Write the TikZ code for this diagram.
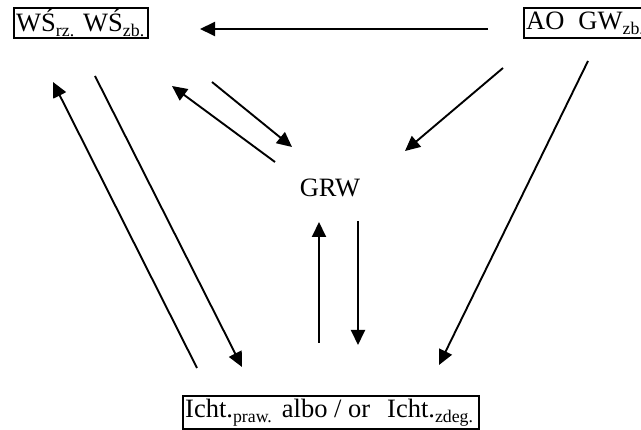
\documentclass[tikz,border=0pt]{standalone}
\usepackage{fontspec}
\setmainfont{Liberation Serif}
\usetikzlibrary{arrows.meta}

% lowered, smaller index text
\newcommand\idx[1]{\raisebox{-5pt}{\fontsize{17.8}{18}\selectfont #1}}

\tikzset{
  labelbox/.style={draw, line width=2.4pt, inner sep=0pt, anchor=north west,
    minimum height=30pt, font=\fontsize{26.5}{28}\selectfont},
  plain/.style={inner sep=0pt, font=\fontsize{26.5}{28}\selectfont},
  flow/.style={line width=1.9pt, -{Triangle[length=15pt,width=14pt]}},
}

\begin{document}
\begin{tikzpicture}[x=1pt,y=-1pt]
  \useasboundingbox (0,0) rectangle (641,430);
  \clip (0,0) rectangle (641,430);
  \fill[white] (0,0) rectangle (641,430);

  % labelled boxes
  \node[labelbox, minimum width=134pt] (ws) at (13,7)
    {\makebox[134pt][l]{\hspace{2pt}WŚ\idx{rz.}\hspace{9pt}WŚ\idx{zb.}}};
  \node[labelbox, minimum width=140pt] (ao) at (523,7)
    {\makebox[140pt][l]{\hspace{2pt}AO\hspace{14pt}GW\idx{zb.}}};
  \node[labelbox, minimum width=296pt, minimum height=33pt] (icht) at (182,395)
    {\makebox[296pt][l]{\hspace{2pt}Icht.\idx{praw.}\hspace{10pt}albo / or\hspace{17pt}Icht.\idx{zdeg.}}};
  \node[plain] (grw) at (330,188) {GRW};

  % connector end points
  \coordinate (a1s) at (488,29);  \coordinate (a1e) at (200,29);
  \coordinate (a2s) at (197,368); \coordinate (a2e) at (53,82);
  \coordinate (a3s) at (95,76);   \coordinate (a3e) at (242,367);
  \coordinate (a4s) at (275,162); \coordinate (a4e) at (172,86);
  \coordinate (a5s) at (212,82);  \coordinate (a5e) at (292,147);
  \coordinate (a6s) at (503,68);  \coordinate (a6e) at (405,151);
  \coordinate (a7s) at (588,61);  \coordinate (a7e) at (439,365);
  \coordinate (a8s) at (319,343); \coordinate (a8e) at (319,222);
  \coordinate (a9s) at (358,221); \coordinate (a9e) at (358,345);

  % flows
  \draw[flow] (a1s) -- (a1e);
  \draw[flow] (a2s) -- (a2e);
  \draw[flow] (a3s) -- (a3e);
  \draw[flow] (a4s) -- (a4e);
  \draw[flow] (a5s) -- (a5e);
  \draw[flow] (a6s) -- (a6e);
  \draw[flow] (a7s) -- (a7e);
  \draw[flow] (a8s) -- (a8e);
  \draw[flow] (a9s) -- (a9e);
\end{tikzpicture}
\end{document}
